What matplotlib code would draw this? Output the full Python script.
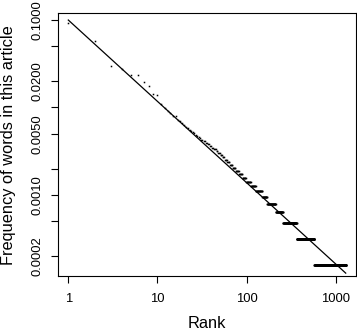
import numpy as np
import matplotlib
matplotlib.use("Agg")
import matplotlib.pyplot as plt

# word counts for the 45 most frequent words (rank 1..45)
top_counts = [592, 364, 191, 175, 150, 148, 124, 111, 90, 87,
              69, 62, 58, 55, 51, 50, 46, 44, 42, 40,
              38, 37, 35, 34, 33, 32, 31, 30, 29, 28,
              27, 27, 26, 26, 25, 25, 24, 24, 23, 23,
              22, 22, 21, 21, 21]
# tied counts further down: count value and how many words share it
tie_counts = [20, 19, 18, 17, 16, 15, 14, 13, 12, 11, 10, 9, 8, 7, 6, 5, 4, 3, 2, 1]
tie_sizes = [2, 3, 3, 3, 4, 4, 5, 6, 7, 7, 9, 13, 15, 23, 20, 43, 43, 109, 210, 720]

# fitted Zipf line  f = a * rank^-b
zipf_a = 0.1
zipf_b = 0.93

counts = np.concatenate([top_counts, np.repeat(tie_counts, tie_sizes)])
freq = counts / counts.sum()
rank = np.arange(1, len(counts) + 1)

plt.rcParams['font.family'] = ['Liberation Sans', 'DejaVu Sans']

fig = plt.figure(figsize=(3.57, 3.30), dpi=100)
ax = fig.add_axes([57.7 / 357, 1 - 276 / 330, (355.7 - 57.7) / 357, (276 - 13.3) / 330])

ax.plot(rank, freq, 's', color='black', markersize=1.1, mew=0)
line_r = np.array([1, rank.max()])
ax.plot(line_r, zipf_a * line_r ** (-zipf_b), color='black', lw=0.9)

ax.set_xscale('log')
ax.set_yscale('log')
ax.set_xlim(10 ** -0.119, 10 ** 3.224)
ax.set_ylim(10 ** -3.927, 10 ** -0.923)

ax.minorticks_off()
ax.set_xticks([1, 10, 100, 1000])
ax.set_xticklabels(['1', '10', '100', '1000'])
yt = [0.1, 0.05, 0.02, 0.01, 0.005, 0.002, 0.001, 0.0005, 0.0002]
ax.set_yticks(yt)
ax.set_yticklabels(['%.4f' % v if i % 2 == 0 else '' for i, v in enumerate(yt)])

ax.tick_params(axis='both', direction='out', length=5, width=0.8, labelsize=9.4)
ax.tick_params(axis='x', pad=7)
ax.tick_params(axis='y', pad=5, labelrotation=90)
for t in ax.get_yticklabels():
    t.set_va('center')

for s in ax.spines.values():
    s.set_linewidth(0.8)

fig.text(207 / 357, 1 - 323 / 330, 'Rank', ha='center', va='center', fontsize=11.8)
fig.text(8.5 / 357, 1 - 145 / 330, 'Frequency of words in this article', ha='center', va='center',
         rotation=90, fontsize=11.8)

fig.savefig('out.png', dpi=100)
